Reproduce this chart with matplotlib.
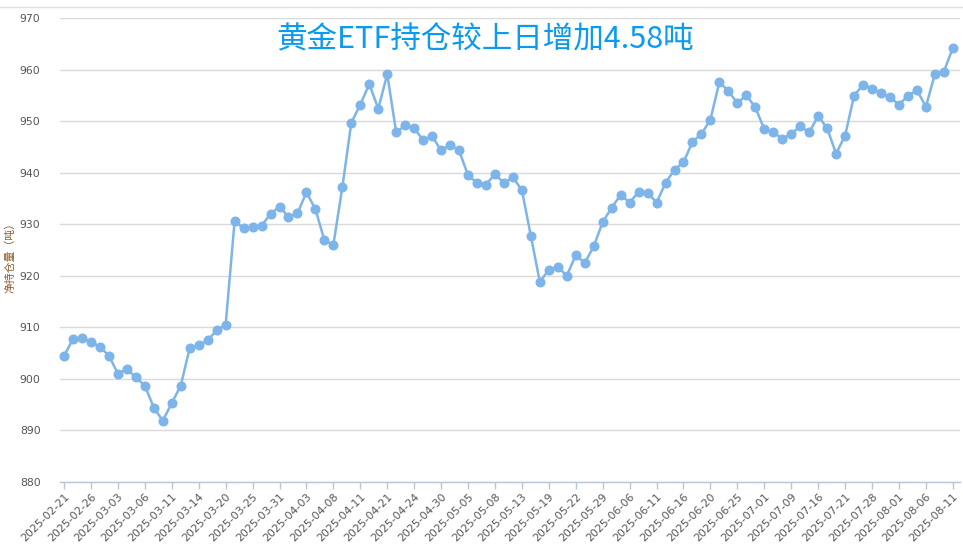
import matplotlib
matplotlib.use("Agg")
import matplotlib.pyplot as plt
from matplotlib.lines import Line2D

plt.rcParams['font.family'] = ['Noto Sans CJK SC', 'DejaVu Sans']

title = "黄金ETF持仓较上日增加4.58吨"
y_label = "净持仓量（吨）"

values = [
    904.5, 907.7, 907.9, 907.2, 906.2, 904.5, 901.0, 901.9, 900.3, 898.7,
    894.4, 891.9, 895.3, 898.7, 906.0, 906.5, 907.5, 909.4, 910.5, 930.6,
    929.2, 929.4, 929.7, 932.0, 933.4, 931.4, 932.1, 936.2, 932.9, 926.9,
    926.0, 937.2, 949.7, 953.2, 957.2, 952.4, 959.1, 947.8, 949.2, 948.6,
    946.3, 947.1, 944.3, 945.4, 944.3, 939.5, 938.0, 937.7, 939.7, 938.0,
    939.1, 936.6, 927.7, 918.8, 921.2, 921.7, 920.0, 924.0, 922.5, 925.7,
    930.4, 933.2, 935.7, 934.2, 936.3, 936.1, 934.2, 938.0, 940.6, 942.0,
    946.0, 947.5, 950.3, 957.6, 955.8, 953.5, 955.0, 952.7, 948.4, 947.8,
    946.6, 947.5, 949.0, 947.8, 951.0, 948.6, 943.7, 947.2, 954.9, 957.1,
    956.3, 955.4, 954.6, 953.2, 954.9, 956.0, 952.8, 959.1, 959.6, 964.18,
]

tick_labels = [
    "2025-02-21", "2025-02-26", "2025-03-03", "2025-03-06", "2025-03-11",
    "2025-03-14", "2025-03-20", "2025-03-25", "2025-03-31", "2025-04-03",
    "2025-04-08", "2025-04-11", "2025-04-21", "2025-04-24", "2025-04-30",
    "2025-05-05", "2025-05-08", "2025-05-13", "2025-05-19", "2025-05-22",
    "2025-05-29", "2025-06-06", "2025-06-11", "2025-06-16", "2025-06-20",
    "2025-06-25", "2025-07-01", "2025-07-09", "2025-07-16", "2025-07-21",
    "2025-07-28", "2025-08-01", "2025-08-06", "2025-08-11",
]
tick_step = 3

y_ticks = [880, 890, 900, 910, 920, 930, 940, 950, 960, 970]

W, H = 963, 548
fig = plt.figure(figsize=(W / 100, H / 100), dpi=100)
ax = fig.add_axes([60 / W, 1 - 482 / H, 900 / W, 464 / H])

x = list(range(len(values)))
ax.plot(x, values, color='#7db4ea', lw=1.8, marker='o', markersize=6.2,
        markerfacecolor='#7db4ea', markeredgecolor='#7db4ea', zorder=3,
        clip_on=False)

ax.set_xlim(-0.45, 99.8)
ax.set_ylim(880, 970)
ax.set_yticks(y_ticks)
ax.set_yticklabels([str(v) for v in y_ticks], fontsize=7.8, color='#555555',
                   family='DejaVu Sans')
ax.yaxis.grid(True, color='#d9d9d9', lw=1)
ax.set_axisbelow(True)
ax.tick_params(axis='y', length=0, pad=14)

ticks = [i * tick_step for i in range(len(tick_labels))]
ax.set_xticks(ticks)
ax.set_xticklabels(tick_labels, rotation=45, ha='right', rotation_mode='anchor',
                   fontsize=7.9, color='#555555', family='DejaVu Sans')
ax.tick_params(axis='x', length=5, color='#b7c6d9', width=1, pad=2)

for s in ['top', 'right', 'left']:
    ax.spines[s].set_visible(False)
ax.spines['bottom'].set_color('#b7c6d9')
ax.spines['bottom'].set_linewidth(1)

fig.text(10 / W, 1 - 255 / H, y_label, rotation=90, ha='center', va='center',
         fontsize=7.8, color='#8a5a2b')

fig.text(485 / W, 1 - 40 / H, title, ha='center', va='center',
         fontsize=22, color='#0a9af0')

fig.add_artist(Line2D([0, 1], [1 - 7 / H, 1 - 7 / H], color='#e0e0e0', lw=1,
                      transform=fig.transFigure))

fig.savefig('out.png', dpi=100)
